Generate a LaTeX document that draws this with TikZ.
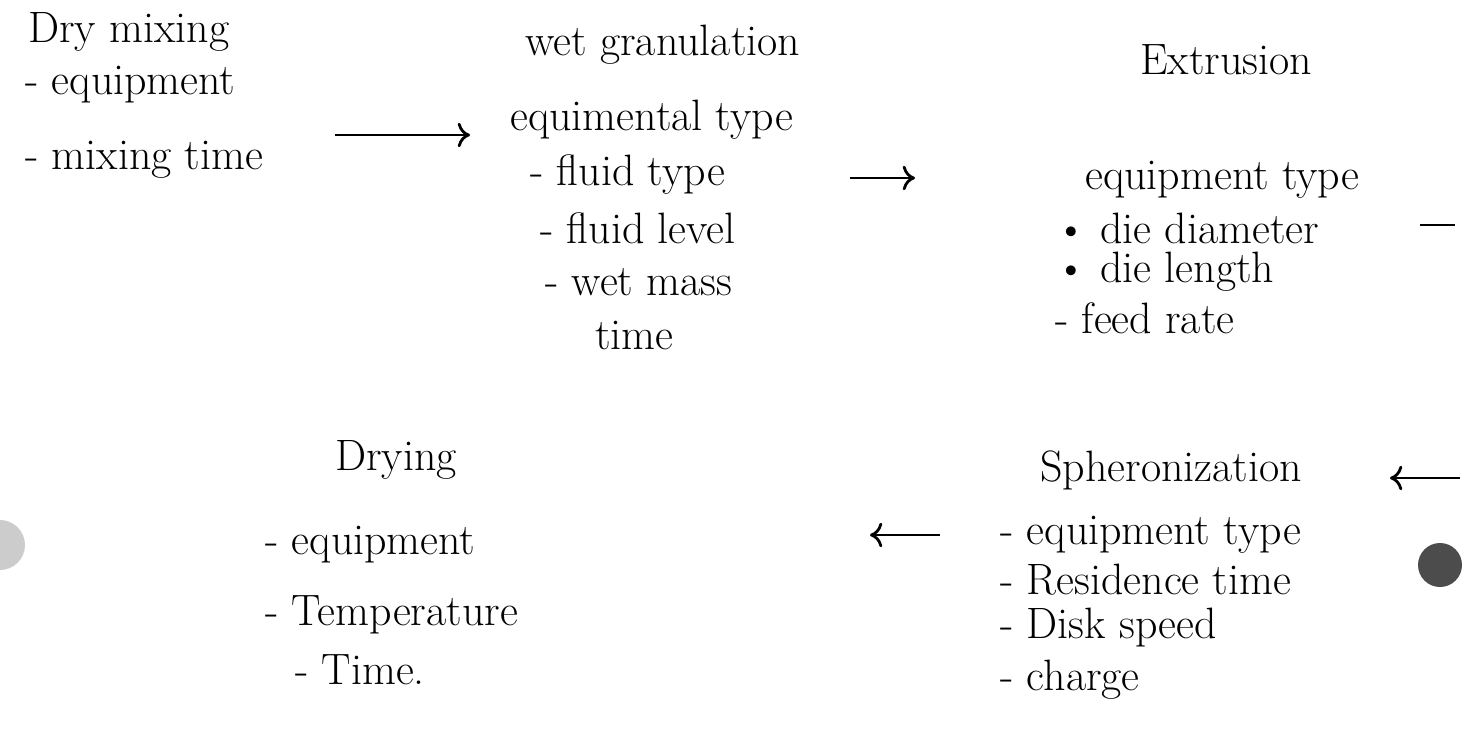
\documentclass[tikz,border=0pt]{standalone}
\usepackage{tikz}
\usetikzlibrary{arrows.meta}
\tikzset{
	txt/.style={anchor=west, inner sep=0pt, font=\fontsize{25}{29}\selectfont},
	arr/.style={line width=1.6pt, -{To[length=7pt,width=14pt]}},
}

\begin{document}
\begin{tikzpicture}[x=0.02cm,y=-0.02cm]
	\useasboundingbox (0,0) rectangle (1474,728);
	% dry mixing
	\node[txt] (dm) at (28,32) {Dry mixing};
	\node[txt] (dm1) at (25,85) {- equipment};
	\node[txt] (dm2) at (25,160) {- mixing time};
	% wet granulation
	\node[txt] (wg) at (525,45) {wet granulation};
	\node[txt] (wg1) at (510,120) {equimental type};
	\node[txt] (wg2) at (530,175) {- fluid type};
	\node[txt] (wg3) at (540,228) {- fluid level};
	\node[txt] (wg4) at (545,282) {- wet mass};
	\node[txt] (wg5) at (595,335) {time};
	% extrusion
	\node[txt] (ex) at (1140,60) {Extrusion};
	\node[txt] (ex1) at (1085,180) {equipment type};
	\node[txt] (ex2) at (1055,228) {\textbullet\ die diameter};
	\node[txt] (ex3) at (1055,272) {\textbullet\ die length};
	\node[txt] (ex4) at (1055,318) {- feed rate};
	% spheronization
	\node[txt] (sp) at (1040,470) {Spheronization};
	\node[txt] (sp1) at (1000,535) {- equipment type};
	\node[txt] (sp2) at (1000,580) {- Residence time};
	\node[txt] (sp3) at (1000,628) {- Disk speed};
	\node[txt] (sp4) at (1000,680) {- charge};
	% drying
	\node[txt] (dr) at (335,460) {Drying};
	\node[txt] (dr1) at (265,545) {- equipment};
	\node[txt] (dr2) at (265,615) {- Temperature};
	\node[txt] (dr3) at (295,670) {- Time.};
	% arrows
	\draw[arr] ([shift={(310,-25)}]dm2.west) -- ([shift={(-40,15)}]wg1.west);
	\draw[arr] ([shift={(320,3)}]wg2.west) -- ([shift={(-170,-2)}]ex1.west);
	\draw[line width=1.6pt] ([shift={(365,-3)}]ex2.west) -- ([shift={(400,-3)}]ex2.west);
	\draw[arr] ([shift={(420,8)}]sp.west) -- ([shift={(350,8)}]sp.west);
	\draw[arr] ([shift={(-60,0)}]sp1.west) -- ([shift={(-130,0)}]sp1.west);
	% holes
	\fill[gray!60!black] (1440,565) circle (0.44cm);
	\fill[gray!40] (0,545) circle (0.5cm);
\end{tikzpicture}
\end{document}
